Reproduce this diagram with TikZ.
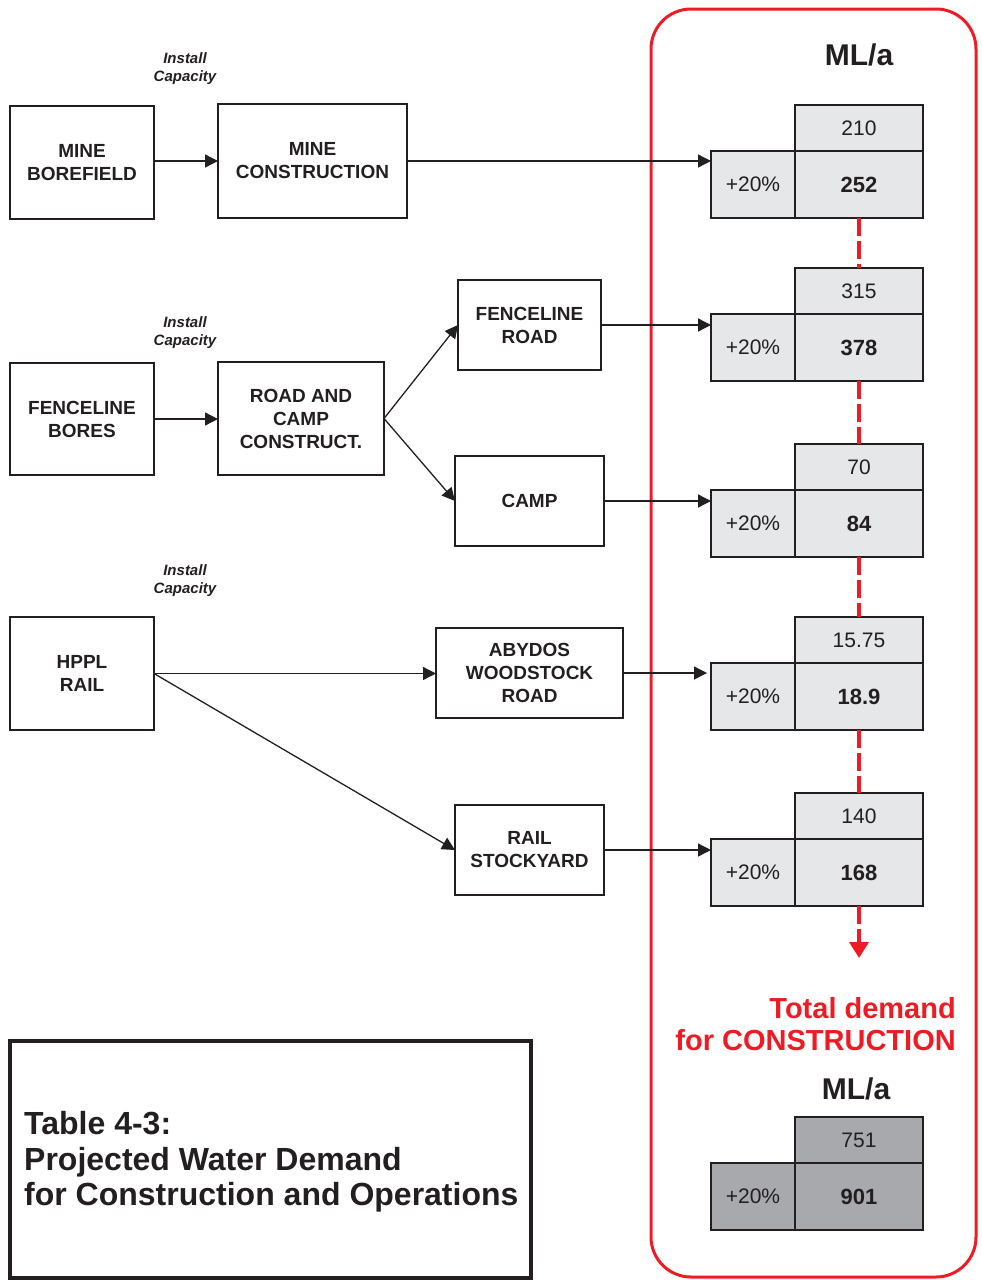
\documentclass[tikz,border=0pt]{standalone}
\usepackage{fontspec}
\setmainfont{Liberation Sans}
\usetikzlibrary{arrows.meta}
\definecolor{dred}{RGB}{237,28,36}
\definecolor{ink}{RGB}{35,31,32}
\definecolor{cellgray}{RGB}{230,231,232}
\definecolor{totgray}{RGB}{167,169,172}
\tikzset{
  stage/.style={draw=ink, line width=1.3pt, inner sep=0pt, outer sep=0pt, align=center,
                text=ink, font=\fontsize{19}{23}\selectfont\bfseries},
  instcap/.style={align=center, text=ink, font=\fontsize{15}{18}\selectfont\bfseries\itshape},
  flow/.style={-{Triangle[length=13pt,width=13pt]}, ink, line width=1.3pt},
  cell/.style={draw=ink, line width=1.3pt, inner sep=0pt, outer sep=0pt, text=ink,
               font=\fontsize{21}{25}\selectfont},
  sumline/.style={dred, line width=3.5pt, dash pattern=on 18pt off 5pt},
  unitlab/.style={text=ink, font=\fontsize{30}{34}\selectfont\bfseries},
  frame/.style={dred, line width=3pt, rounded corners=40pt},
  totlab/.style={align=right, inner sep=0pt, text=dred, font=\fontsize{29}{32}\selectfont\bfseries},
  cpt/.style={align=left, inner sep=0pt, text=ink, font=\fontsize{32}{35.5}\selectfont\bfseries},
}
\newcommand{\demand}[5]{%
  \node[cell, fill=#5, minimum width=128pt, minimum height=46pt, anchor=north west] (#1top) at (795,#2) {#3};
  \node[cell, fill=#5, minimum width=128pt, minimum height=67pt, anchor=north,
        font=\fontsize{22}{25}\selectfont\bfseries] (#1val) at (#1top.south) {#4};
  \node[cell, fill=#5, minimum width=84pt, minimum height=67pt, anchor=north east] (#1pct) at (#1val.north west) {+20\%};}

\begin{document}
\begin{tikzpicture}[x=1pt, y=-1pt]
  \useasboundingbox (0,0) rectangle (982,1280);
  \draw[frame] (651,9) rectangle (976,1277);
  \node[unitlab] (unit) at (859,55) {ML/a};

  \node[instcap] (cap1) at (185,69) {Install\\Capacity};
  \node[instcap] (cap2) at (185,333) {Install\\Capacity};
  \node[instcap] (cap3) at (185,581) {Install\\Capacity};

  \node[stage, minimum width=144pt, minimum height=113pt] (mineb) at (82,162.5) {MINE\\BOREFIELD};
  \node[stage, minimum width=189pt, minimum height=114pt] (minecon) at (312.5,161) {MINE\\CONSTRUCTION};
  \node[stage, minimum width=144pt, minimum height=112pt] (fenceb) at (82,419) {FENCELINE\\BORES};
  \node[stage, minimum width=166pt, minimum height=113pt] (roadcamp) at (301,418.5) {ROAD AND\\CAMP\\CONSTRUCT.};
  \node[stage, minimum width=143pt, minimum height=90pt] (fenceroad) at (529.5,325) {FENCELINE\\ROAD};
  \node[stage, minimum width=149pt, minimum height=90pt] (camp) at (529.5,501) {CAMP};
  \node[stage, minimum width=144pt, minimum height=113pt] (hppl) at (82,673.5) {HPPL\\RAIL};
  \node[stage, minimum width=187pt, minimum height=90pt] (abydos) at (529.5,673) {ABYDOS\\WOODSTOCK\\ROAD};
  \node[stage, minimum width=149pt, minimum height=90pt] (stockyard) at (529.5,850) {RAIL\\STOCKYARD};

  \demand{r1}{105}{210}{252}{cellgray}
  \demand{r2}{268}{315}{378}{cellgray}
  \demand{r3}{444}{70}{84}{cellgray}
  \demand{r4}{617}{15.75}{18.9}{cellgray}
  \demand{r5}{793}{140}{168}{cellgray}

  \draw[sumline] (r1val.south) -- (r2top.north);
  \draw[sumline] (r2val.south) -- (r3top.north);
  \draw[sumline] (r3val.south) -- (r4top.north);
  \draw[sumline] (r4val.south) -- (r5top.north);
  \coordinate (sumend) at (859,958);
  \draw[sumline, -{Triangle[length=16pt,width=19pt]}] (r5val.south) -- (sumend);

  \draw[flow] (mineb.east |- minecon.west) -- (minecon.west);
  \draw[flow] (minecon.east) -- (minecon.east -| r1pct.west);
  \draw[flow] (fenceb.east) -- (fenceb.east -| roadcamp.west);
  \draw[flow] (roadcamp.east) -- (fenceroad.west);
  \draw[flow] (roadcamp.east) -- (camp.west);
  \draw[flow] (fenceroad.east) -- (fenceroad.east -| r2pct.west);
  \draw[flow] (camp.east) -- (camp.east -| r3pct.west);
  \draw[flow] (hppl.east) -- (hppl.east -| abydos.west);
  \draw[flow] (hppl.east) -- (stockyard.west);
  \draw[flow, shorten >=4pt] (abydos.east) -- (abydos.east -| r4pct.west);
  \draw[flow] (stockyard.east) -- (stockyard.east -| r5pct.west);

  \node[totlab, anchor=north east] (total) at (956,997) {Total demand\\for CONSTRUCTION};
  \node[unitlab] (unit2) at (856,1089) {ML/a};
  \demand{tot}{1117}{751}{901}{totgray}

  \draw[ink, line width=4pt] (10,1041) rectangle (531,1278);
  \node[cpt, anchor=west] (caption) at (24,1162) {Table 4-3:\\Projected Water Demand\\for Construction and Operations};
\end{tikzpicture}
\end{document}
